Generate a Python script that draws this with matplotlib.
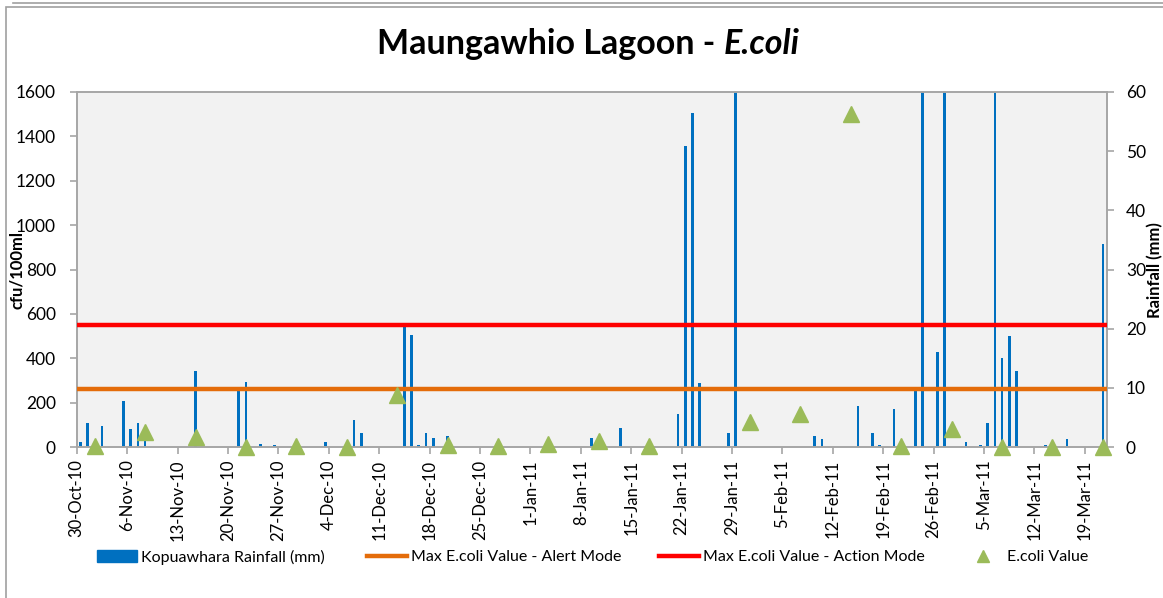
import numpy as np
import pandas as pd
import matplotlib
matplotlib.use("Agg")
import matplotlib.pyplot as plt
import matplotlib.dates as mdates
from matplotlib.lines import Line2D
from matplotlib.patches import Patch, Rectangle

plt.rcParams['font.family'] = ['Lato', 'DejaVu Sans']

# daily rainfall (mm), only days with rain
rain_dates = ['2010-10-30', '2010-10-31', '2010-11-02', '2010-11-05', '2010-11-06',
              '2010-11-07', '2010-11-08', '2010-11-15', '2010-11-21', '2010-11-22',
              '2010-11-24', '2010-11-26', '2010-12-03', '2010-12-07', '2010-12-08',
              '2010-12-14', '2010-12-15', '2010-12-16', '2010-12-17', '2010-12-18',
              '2010-12-20', '2011-01-09', '2011-01-13', '2011-01-21', '2011-01-22',
              '2011-01-23', '2011-01-24', '2011-01-28', '2011-01-29', '2011-02-09',
              '2011-02-10', '2011-02-15', '2011-02-17', '2011-02-18', '2011-02-20',
              '2011-02-23', '2011-02-24', '2011-02-26', '2011-02-27', '2011-03-02',
              '2011-03-04', '2011-03-05', '2011-03-06', '2011-03-07', '2011-03-08',
              '2011-03-09', '2011-03-13', '2011-03-16', '2011-03-21']
rain_mm = [0.9, 4.0, 3.6, 7.8, 3.0,
           4.0, 2.5, 12.9, 10.1, 11.0,
           0.45, 0.4, 0.9, 4.6, 2.4,
           21.0, 18.9, 0.4, 2.4, 1.5,
           1.9, 1.5, 3.2, 5.5, 50.9,
           56.4, 10.9, 2.3, 75.0, 1.9,
           1.4, 6.9, 2.4, 0.4, 6.4,
           10.1, 80.0, 16.0, 65.0, 0.9,
           0.3, 4.0, 65.0, 15.0, 18.8,
           12.8, 0.3, 1.35, 34.3]

# weekly E.coli samples (cfu/100ml)
ecoli_dates = ['2010-11-01', '2010-11-08', '2010-11-15', '2010-11-22', '2010-11-29',
               '2010-12-06', '2010-12-13', '2010-12-20', '2010-12-27', '2011-01-03',
               '2011-01-10', '2011-01-17', '2011-01-24', '2011-01-31', '2011-02-07',
               '2011-02-14', '2011-02-21', '2011-02-28', '2011-03-07', '2011-03-14',
               '2011-03-21']
ecoli_val = [6, 68, 45, 2, 6,
             2, 233, 10, 3, 15,
             26, 6, np.nan, 112, 150,
             1500, 6, 82, 2, 2,
             2]

alert_level = 260
action_level = 550

start = pd.Timestamp('2010-10-30')
end = pd.Timestamp('2011-03-21')
tick_dates = pd.date_range(start, end, freq='7D')
tick_labels = [f"{d.day}-{d.strftime('%b-%y')}" for d in tick_dates]

rx = mdates.date2num(pd.to_datetime(rain_dates))
ex = mdates.date2num(pd.to_datetime(ecoli_dates))
x0 = mdates.date2num(start) - 0.5
x1 = mdates.date2num(end) + 0.5

fig = plt.figure(figsize=(11.63, 5.98), dpi=100)

# outer chart frame
fig.add_artist(Rectangle((6 / 1163, -0.01), 1.2, 1 - 7 / 598 + 0.01,
                         transform=fig.transFigure, fill=False,
                         edgecolor='#A0A0A0', linewidth=1.2))
fig.add_artist(Line2D([13 / 1163, 1.0], [1 - 2.5 / 598] * 2,
                      transform=fig.transFigure, color='#A0A0A0', linewidth=1.2))

# rainfall axis (drawn behind)
axr = fig.add_axes([76.7 / 1163, 1 - 447 / 598, (1106.5 - 76.7) / 1163, 355 / 598])
axr.set_facecolor('#F2F2F2')
axr.bar(rx, rain_mm, width=0.38, color='#0070C0', zorder=2)
axr.set_ylim(0, 60)
axr.set_yticks(range(0, 61, 10))
axr.set_xlim(x0, x1)
axr.set_xticks(mdates.date2num(tick_dates) - 0.5)
axr.set_xticklabels(tick_labels, rotation=90)

# E.coli axis (drawn on top)
axl = axr.twinx()
axl.yaxis.tick_left()
axr.yaxis.tick_right()

axl.axhline(alert_level, color='#E46C0A', linewidth=3.2, zorder=3)
axl.axhline(action_level, color='#FF0000', linewidth=3.2, zorder=3)
axl.plot(ex, ecoli_val, linestyle='none', marker='^', markersize=11,
         color='#9BBB59', zorder=4, clip_on=False)
axl.set_ylim(0, 1600)
axl.set_yticks(range(0, 1601, 200))
axl.set_xlim(x0, x1)

for a in (axr, axl):
    for s in a.spines.values():
        s.set_color('#A6A6A6')
        s.set_linewidth(1.2)
    a.tick_params(axis='both', colors='#A6A6A6', labelcolor='black',
                  labelsize=12.5, length=5, width=1.2)
axr.tick_params(axis='x', pad=4, labelsize=12)
axr.tick_params(axis='y', pad=9)
axl.tick_params(axis='y', pad=10)

# axis titles
fig.text(17 / 1163, 1 - 270 / 598, 'cfu/100ml', rotation=90, ha='center',
         va='center', fontsize=12, fontweight='bold')
fig.text(1155 / 1163, 1 - 270 / 598, 'Rainfall (mm)', rotation=90, ha='center',
         va='center', fontsize=12, fontweight='bold')

# title
t1 = fig.text(0, 0, 'Maungawhio Lagoon - ', fontsize=24.5, fontweight='bold')
t2 = fig.text(0, 0, 'E.coli', fontsize=24.5, fontweight='bold', style='italic')
fig.canvas.draw()
r = fig.canvas.get_renderer()
w1 = t1.get_window_extent(r).width
w2 = t2.get_window_extent(r).width
xs = (588 - (w1 + w2) / 2) / 1163
ty = 1 - 54 / 598
t1.set_position((xs, ty))
t2.set_position((xs + w1 / 1163, ty))

# legend, one entry per block
ly = 1 - 557 / 598
entries = [
    (Patch(color='#0070C0'), 'Kopuawhara Rainfall (mm)', 97),
    (Line2D([], [], color='#E46C0A', linewidth=3.2), 'Max E.coli Value - Alert Mode', 367),
    (Line2D([], [], color='#FF0000', linewidth=3.2), 'Max E.coli Value - Action Mode', 659),
    (Line2D([], [], linestyle='none', marker='^', markersize=8, color='#9BBB59'), 'E.coli Value', 963),
]
for h, lab, lx in entries:
    fig.legend([h], [lab], loc='center left', bbox_to_anchor=(lx / 1163, ly),
               frameon=False, fontsize=11.5, handlelength=2.5, handletextpad=0.25,
               borderaxespad=0, borderpad=0)

fig.savefig('out.png', dpi=100)
